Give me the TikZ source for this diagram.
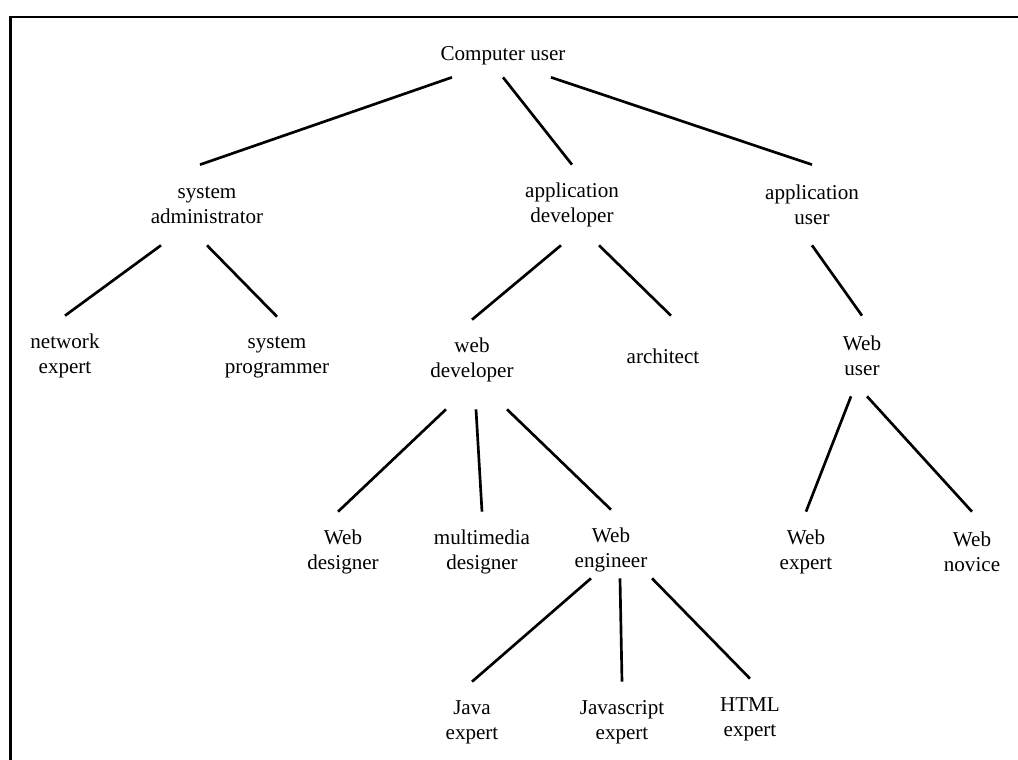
\documentclass[tikz,border=0pt]{standalone}
\usepackage{fontspec}
\setmainfont{Liberation Serif}
\usepackage{tikz}
\usetikzlibrary{positioning}

\begin{document}
\begin{tikzpicture}[-,line width=1.9pt,auto]
\tikzstyle{role}=[align=center,inner sep=0pt,minimum height=1.95cm]
\tikzset{font=\fontsize{15pt}{17.7pt}\selectfont}

        \useasboundingbox (0,0) rectangle (25.45,-19);
        \draw[line width=2.1pt] (25.6,-0.425) -- (0.2625,-0.425) -- (0.2625,-19.2);

        \node[role,minimum height=1cm]                          (cu)  at (12.575,-1.4)  {Computer user};

        \node[role,node distance=3.725cm,xshift=-7.4cm]          (sa)  [below of=cu] {system\\administrator};
        \node[role,node distance=3.725cm,xshift=1.725cm]         (ad)  [below of=cu] {application\\developer};
        \node[role,node distance=3.725cm,xshift=7.725cm]         (au)  [below of=cu] {application\\user};

        \node[role,node distance=3.775cm,xshift=-3.55cm]         (ne)  [below of=sa] {network\\expert};
        \node[role,node distance=3.8cm,xshift=1.75cm]            (sp)  [below of=sa] {system\\programmer};
        \node[role,node distance=3.875cm,xshift=-2.5cm]          (wd)  [below of=ad] {web\\developer};
        \node[role,node distance=3.775cm,xshift=2.275cm]         (ar)  [below of=ad] {architect};
        \node[role,node distance=3.775cm,xshift=1.25cm]          (wu)  [below of=au] {Web\\user};

        \node[role,node distance=4.8cm,xshift=-3.225cm]          (wdes) [below of=wd] {Web\\designer};
        \node[role,node distance=4.8cm,xshift=0.25cm]            (mm)   [below of=wd] {multimedia\\designer};
        \node[role,node distance=4.75cm,xshift=3.475cm]          (we)   [below of=wd] {Web\\engineer};
        \node[role,node distance=4.9cm,xshift=-1.4cm]            (wex)  [below of=wu] {Web\\expert};
        \node[role,node distance=4.9cm,xshift=2.75cm]            (wn)   [below of=wu] {Web\\novice};

        \node[role,node distance=4.3cm,xshift=-3.475cm]          (java) [below of=we] {Java\\expert};
        \node[role,node distance=4.3cm,xshift=0.275cm]           (js)   [below of=we] {Javascript\\expert};
        \node[role,node distance=4.225cm,xshift=3.475cm]         (html) [below of=we] {HTML\\expert};

        \path
        ([xshift=-1.275cm]cu.south)   edge   ([xshift=-0.175cm]sa.north)
        (cu.south)                    edge   (ad.north)
        ([xshift=1.2cm]cu.south)      edge   (au.north)
        ([xshift=-1.15cm]sa.south)    edge   (ne.north)
        (sa.south)                    edge   (sp.north)
        ([xshift=-0.275cm]ad.south)   edge   (wd.north)
        ([xshift=0.675cm]ad.south)    edge   ([xshift=0.2cm]ar.north)
        (au.south)                    edge   (wu.north)
        ([xshift=-0.65cm,yshift=-0.225cm]wd.south) edge ([xshift=-0.125cm]wdes.north)
        ([xshift=0.1cm,yshift=-0.225cm]wd.south)   edge (mm.north)
        ([xshift=0.875cm,yshift=-0.225cm]wd.south) edge (we.north)
        ([xshift=-0.275cm]wu.south)   edge   (wex.north)
        ([xshift=0.125cm]wu.south)    edge   (wn.north)
        ([xshift=-0.5cm,yshift=0.3cm]we.south)   edge (java.north)
        ([xshift=0.225cm,yshift=0.3cm]we.south)  edge (js.north)
        ([xshift=1.025cm,yshift=0.3cm]we.south)  edge (html.north)
        ; %end path

\end{tikzpicture}
\end{document}
